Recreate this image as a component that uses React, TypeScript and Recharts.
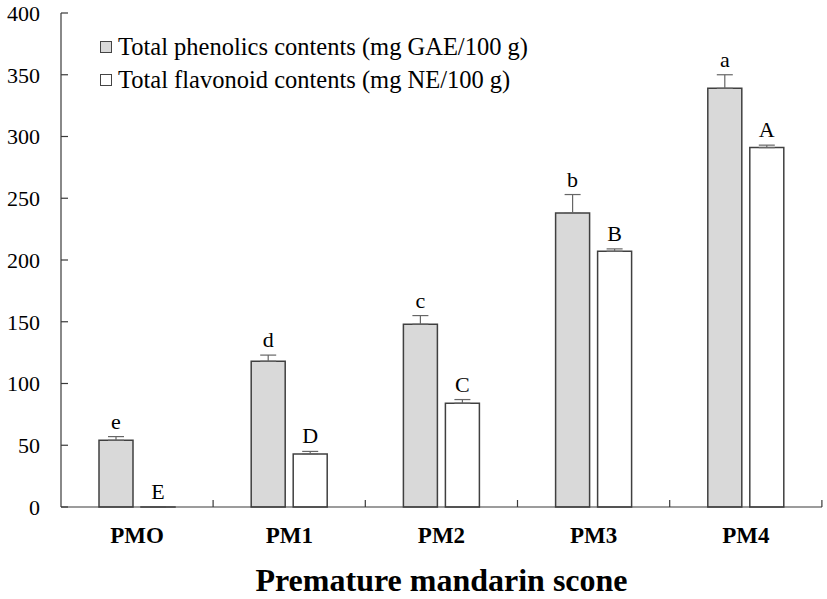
import React from 'react';
import { BarChart, Bar, XAxis, YAxis, ErrorBar, LabelList, Legend } from 'recharts';

const categories = ['PMO', 'PM1', 'PM2', 'PM3', 'PM4'];
const phenolics = [54, 118, 148, 238, 339];
const phenolicsErr = [3, 5, 7, 15, 11];
const phenolicsLetters = ['e', 'd', 'c', 'b', 'a'];
const flavonoids = [0, 43, 84, 207, 291];
const flavonoidsErr = [0, 2, 3, 2, 2];
const flavonoidsLetters = ['E', 'D', 'C', 'B', 'A'];
const yTicks = [0, 50, 100, 150, 200, 250, 300, 350, 400];

const data = categories.map((name, i) => ({
  name,
  phen: phenolics[i],
  phenErr: [0, phenolicsErr[i]],
  phenLetter: phenolicsLetters[i],
  flav: flavonoids[i],
  flavErr: [0, flavonoidsErr[i]],
  flavLetter: flavonoidsLetters[i],
}));

const FONT = '"Liberation Serif", "Times New Roman", serif';
const AXIS = '#3a3a3a';
const PX_PER_UNIT = 494 / 400;

// letter above each bar, sitting on top of the error bar cap
const makeLetter = (errs: number[]) => (props: any) => {
  const { x, y, width, value, index } = props;
  const err = errs[index] || 0;
  const top = y - err * PX_PER_UNIT;
  return (
    <text x={x + width / 2} y={top - 8} textAnchor="middle" fontSize={22} fontFamily={FONT} fill="#000">
      {value}
    </text>
  );
};

// category label + small inward tick at the right edge of each band
const CategoryTick = (props: any) => {
  const { x, y, payload } = props;
  const axisY = y - 10;
  return (
    <g>
      <line x1={x + 76} x2={x + 76} y1={axisY} y2={axisY - 7} stroke={AXIS} strokeWidth={1.2} />
      <text x={x} y={axisY + 36} textAnchor="middle" fontSize={23} fontWeight="bold" fontFamily={FONT} fill="#000">
        {payload.value}
      </text>
    </g>
  );
};

const LegendBox = () => {
  const items = [
    { label: 'Total phenolics contents (mg GAE/100 g)', fill: '#d9d9d9' },
    { label: 'Total flavonoid contents (mg NE/100 g)', fill: '#ffffff' },
  ];
  return (
    <div style={{ fontFamily: FONT, fontSize: 24.5, color: '#000', lineHeight: '33px' }}>
      {items.map(it => (
        <div key={it.label} style={{ display: 'flex', alignItems: 'center', whiteSpace: 'nowrap' }}>
          <span style={{ display: 'inline-block', width: 10, height: 10, border: '1px solid #444', background: it.fill, marginRight: 6 }} />
          {it.label}
        </div>
      ))}
    </div>
  );
};

export default function App() {
  return (
    <div style={{ width: 827, height: 599, background: '#fff', fontFamily: FONT }}>
      <style>{'body{margin:0} svg text, svg tspan{font-family:"Liberation Serif","Times New Roman",serif !important}'}</style>
      <BarChart
        width={827}
        height={599}
        data={data}
        margin={{ top: 13, right: 5, bottom: 0, left: 0 }}
        barCategoryGap={38}
        barGap={8}
      >
        <XAxis
          dataKey="name"
          height={92}
          tickSize={0}
          tickMargin={10}
          tickLine={false}
          axisLine={{ stroke: AXIS, strokeWidth: 1.2 }}
          tick={<CategoryTick />}
          interval={0}
          label={{
            value: 'Premature mandarin scone',
            position: 'insideBottom',
            offset: 8,
            style: { fontFamily: FONT, fontSize: 32, fontWeight: 'bold', fill: '#000' },
          }}
        />
        <YAxis
          width={61}
          domain={[0, 400]}
          ticks={yTicks}
          tickSize={-7}
          tickMargin={28}
          axisLine={{ stroke: AXIS, strokeWidth: 1.2 }}
          tickLine={{ stroke: AXIS, strokeWidth: 1.2 }}
          tick={{ fontFamily: FONT, fontSize: 22, fill: '#000' }}
        />
        <Legend
          layout="vertical"
          align="center"
          verticalAlign="middle"
          wrapperStyle={{ left: 100, top: 30, width: 'auto' }}
          content={<LegendBox />}
        />
        <Bar dataKey="phen" fill="#d9d9d9" stroke="#404040" strokeWidth={1.5} isAnimationActive={false}>
          <ErrorBar dataKey="phenErr" width={8} stroke="#666" strokeWidth={1.2} direction="y" />
          <LabelList dataKey="phenLetter" content={makeLetter(phenolicsErr)} />
        </Bar>
        <Bar dataKey="flav" fill="#ffffff" stroke="#404040" strokeWidth={1.5} minPointSize={0.01} isAnimationActive={false}>
          <ErrorBar dataKey="flavErr" width={8} stroke="#666" strokeWidth={1.2} direction="y" />
          <LabelList dataKey="flavLetter" content={makeLetter(flavonoidsErr)} />
        </Bar>
      </BarChart>
    </div>
  );
}
